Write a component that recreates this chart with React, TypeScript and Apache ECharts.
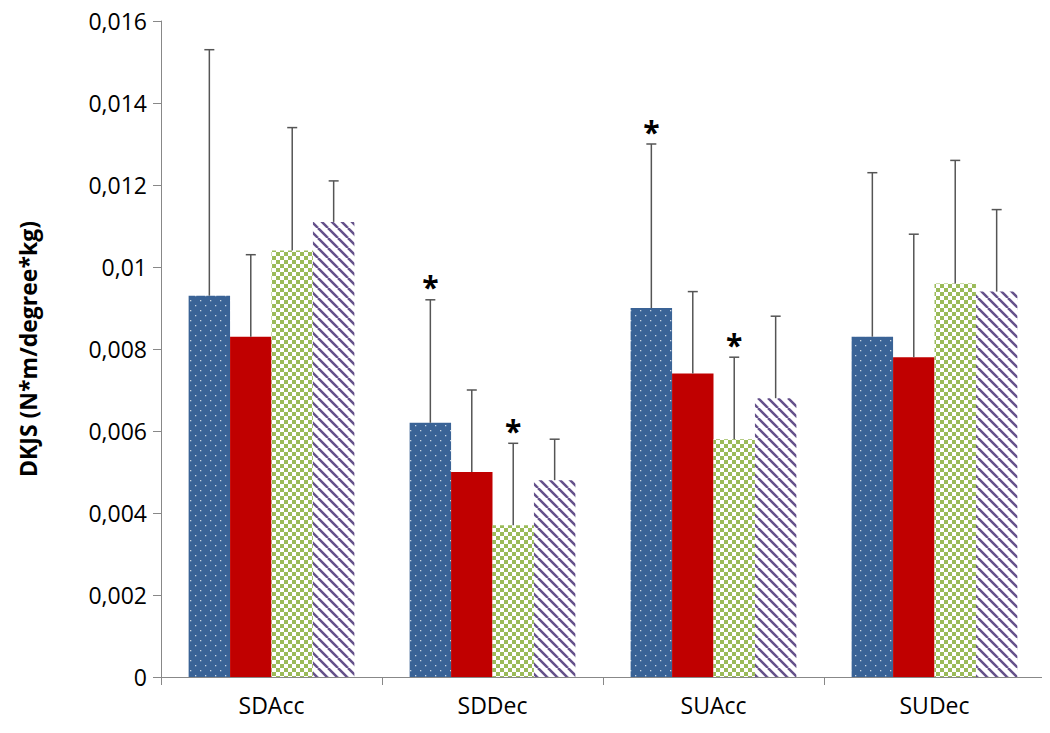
import { useEffect, useRef } from "react";
import * as echarts from "echarts";

const categories = ["SDAcc", "SDDec", "SUAcc", "SUDec"];
const blueVals = [0.0093, 0.0062, 0.009, 0.0083];
const redVals = [0.0083, 0.005, 0.0074, 0.0078];
const greenVals = [0.0104, 0.0037, 0.0058, 0.0096];
const purpleVals = [0.0111, 0.0048, 0.0068, 0.0094];
const blueTop = [0.0153, 0.0092, 0.013, 0.0123];
const redTop = [0.0103, 0.007, 0.0094, 0.0108];
const greenTop = [0.0134, 0.0057, 0.0078, 0.0126];
const purpleTop = [0.0121, 0.0058, 0.0088, 0.0114];
// [series index, category index] with significance star
const stars = [[0, 1], [2, 1], [0, 2], [2, 2]];

function makePattern(kind: string) {
  const c = document.createElement("canvas");
  const ctx = c.getContext("2d")!;
  if (kind === "dots") {
    c.width = 10; c.height = 10;
    ctx.fillStyle = "#3a6396"; ctx.fillRect(0, 0, 10, 10);
    ctx.fillStyle = "#c8d4e4";
    ctx.fillRect(2, 2, 1.3, 1.3); ctx.fillRect(7, 7, 1.3, 1.3);
  } else if (kind === "check") {
    c.width = 8; c.height = 8;
    ctx.fillStyle = "#ffffff"; ctx.fillRect(0, 0, 8, 8);
    ctx.fillStyle = "#9bbb59";
    ctx.fillRect(0, 0, 4, 4); ctx.fillRect(4, 4, 4, 4);
  } else {
    c.width = 10; c.height = 10;
    ctx.fillStyle = "#ffffff"; ctx.fillRect(0, 0, 10, 10);
    ctx.strokeStyle = "#64508a"; ctx.lineWidth = 2.5;
    for (let k = -10; k <= 20; k += 10) {
      ctx.beginPath(); ctx.moveTo(k, 0); ctx.lineTo(k + 10, 10); ctx.stroke();
    }
  }
  return { image: c, repeat: "repeat" as const };
}

export default function App() {
  const ref = useRef<HTMLDivElement | null>(null);
  useEffect(() => {
    if (!ref.current) return;
    const chart = echarts.init(ref.current, undefined, { renderer: "svg" });
    const vals = [blueVals, redVals, greenVals, purpleVals];
    const tops = [blueTop, redTop, greenTop, purpleTop];
    const fills: any[] = [makePattern("dots"), "#c00000", makePattern("check"), makePattern("stripes")];
    const errData: any[] = [];
    tops.forEach((t, s) => t.forEach((v, i) => errData.push([i, vals[s][i], v, s])));
    const font = "Open Sans";
    chart.setOption({
      animation: false,
      grid: { left: 150, right: 5, top: 13, bottom: 56 },
      xAxis: {
        type: "category", data: categories,
        axisLine: { lineStyle: { color: "#888" } },
        axisTick: { show: true, length: 8, lineStyle: { color: "#888" } },
        axisLabel: { color: "#000", fontSize: 23, fontFamily: font, margin: 16 },
      },
      yAxis: {
        type: "value", min: 0, max: 0.016, interval: 0.002,
        name: "DKJS (N*m/degree*kg)", nameLocation: "middle", nameGap: 122,
        nameTextStyle: { fontSize: 23, fontWeight: "bold", fontFamily: font, color: "#000" },
        axisLine: { show: true, lineStyle: { color: "#888" } },
        axisTick: { show: true, length: 8, lineStyle: { color: "#888" } },
        splitLine: { show: false },
        axisLabel: {
          color: "#000", fontSize: 23, fontFamily: font, margin: 14,
          formatter: (v: number) => (v === 0 ? "0" : String(Number(v.toFixed(3))).replace(".", ",")),
        },
      },
      series: [
        ...vals.map((d, s) => ({
          type: "bar", data: d, barGap: "0%", barCategoryGap: "25%",
          itemStyle: { color: fills[s] }, z: 2,
        })),
        {
          type: "custom", z: 3, data: errData,
          renderItem: (_p: any, api: any) => {
            const i = api.value(0), s = api.value(3);
            const bandW = api.size([1, 0])[0];
            const barW = (bandW * 0.75) / 4;
            const cx = api.coord([i, 0])[0] - bandW * 0.375 + barW * (s + 0.5);
            const y0 = api.coord([i, api.value(1)])[1];
            const y1 = api.coord([i, api.value(2)])[1];
            const st = { stroke: "#555", lineWidth: 1.5 };
            const children: any[] = [
              { type: "line", shape: { x1: cx, y1: y0, x2: cx, y2: y1 }, style: st },
              { type: "line", shape: { x1: cx - 5, y1: y1, x2: cx + 5, y2: y1 }, style: st },
            ];
            if (stars.some(([ss, ii]) => ss === s && ii === i)) {
              children.push({
                type: "text", x: cx, y: y1 + 2,
                style: { text: "*", fontSize: 30, fontWeight: "bold", fontFamily: font, fill: "#000", align: "center", verticalAlign: "bottom" },
              });
            }
            return { type: "group", children };
          },
        },
      ],
    });
    return () => chart.dispose();
  }, []);
  return <div ref={ref} style={{ width: 1042, height: 725 }} />;
}
